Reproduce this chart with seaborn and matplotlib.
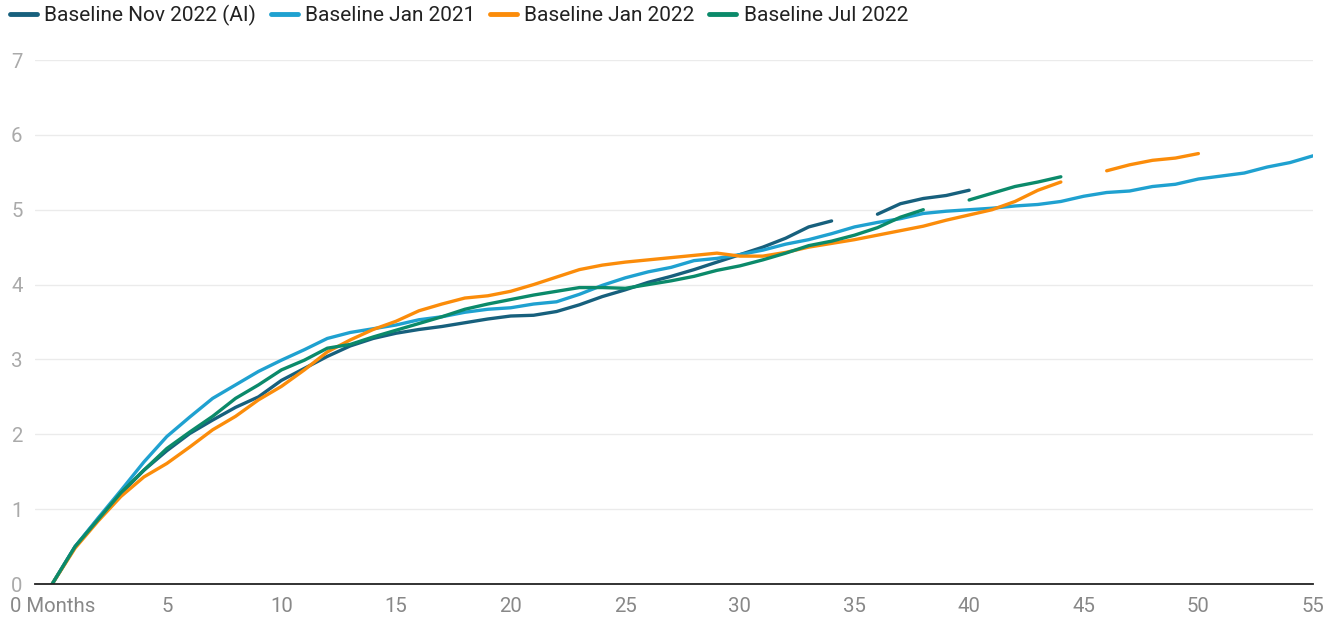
import numpy as np
import pandas as pd
import matplotlib
matplotlib.use("Agg")
import matplotlib.pyplot as plt
from matplotlib.lines import Line2D
import seaborn as sns

nan = np.nan
months_nov22 = list(range(0, 41))
nov22 = [0, 0.5, 0.87, 1.21, 1.52, 1.78, 2.01, 2.19, 2.36, 2.50, 2.72, 2.88, 3.04, 3.18, 3.28,
         3.35, 3.40, 3.44, 3.49, 3.54, 3.58, 3.59, 3.64, 3.73, 3.84, 3.93, 4.03, 4.11, 4.20, 4.30,
         4.40, 4.50, 4.62, 4.77, 4.85, nan, 4.94, 5.08, 5.15, 5.19, 5.26]

months_jan21 = list(range(0, 56))
jan21 = [0, 0.5, 0.88, 1.25, 1.63, 1.97, 2.23, 2.48, 2.66, 2.84, 2.99, 3.13, 3.28, 3.36, 3.41,
         3.46, 3.53, 3.57, 3.63, 3.67, 3.69, 3.74, 3.77, 3.87, 3.99, 4.09, 4.17, 4.23, 4.32, 4.35,
         4.40, 4.46, 4.54, 4.60, 4.68, 4.77, 4.83, 4.88, 4.95, 4.98, 5.00, 5.02, 5.05, 5.07, 5.11,
         5.18, 5.23, 5.25, 5.31, 5.34, 5.41, 5.45, 5.49, 5.57, 5.63, 5.72]

months_jan22 = list(range(0, 51))
jan22 = [0, 0.48, 0.84, 1.17, 1.43, 1.61, 1.83, 2.06, 2.24, 2.46, 2.64, 2.86, 3.10, 3.26, 3.40,
         3.51, 3.65, 3.74, 3.82, 3.85, 3.91, 4.00, 4.10, 4.20, 4.26, 4.30, 4.33, 4.36, 4.39, 4.42,
         4.38, 4.38, 4.43, 4.50, 4.55, 4.60, 4.66, 4.72, 4.78, 4.86, 4.93, 5.00, 5.11, 5.26, 5.37,
         nan, 5.52, 5.60, 5.66, 5.69, 5.75]

months_jul22 = list(range(0, 45))
jul22 = [0, 0.5, 0.86, 1.22, 1.52, 1.81, 2.03, 2.24, 2.48, 2.66, 2.86, 2.99, 3.15, 3.20, 3.30,
         3.39, 3.48, 3.57, 3.67, 3.74, 3.80, 3.86, 3.91, 3.96, 3.96, 3.95, 4.00, 4.05, 4.11, 4.19,
         4.25, 4.33, 4.42, 4.52, 4.58, 4.66, 4.76, 4.90, 5.00, nan, 5.13, 5.22, 5.31, 5.37, 5.44]

series_names = ["Baseline Nov 2022 (AI)", "Baseline Jan 2021", "Baseline Jan 2022", "Baseline Jul 2022"]
series_x = [months_nov22, months_jan21, months_jan22, months_jul22]
series_y = [nov22, jan21, jan22, jul22]
colors = ["#17607d", "#1fa1d0", "#fb8c0a", "#0b8a6a"]

x_ticks = [0, 5, 10, 15, 20, 25, 30, 35, 40, 45, 50, 55]
x_tick_labels = ["0 Months"] + [str(v) for v in x_ticks[1:]]
y_ticks = [0, 1, 2, 3, 4, 5, 6, 7]

sns.set_style("white")
plt.rcParams["font.family"] = ["Roboto", "DejaVu Sans"]

fig = plt.figure(figsize=(13.27, 6.19), dpi=100)
ax = fig.add_axes([35 / 1327, 1 - 584 / 619, (1313 - 35) / 1327, (584 - 60) / 619])

for name, xs, ys, c in zip(series_names, series_x, series_y, colors):
    df = pd.DataFrame({"month": xs, "value": ys})
    df["seg"] = df["value"].isna().cumsum()
    df = df.dropna()
    for _, seg in df.groupby("seg"):
        sns.lineplot(data=seg, x="month", y="value", ax=ax, color=c, linewidth=2.4,
                     solid_capstyle="round", legend=False)

ax.set_xlim(-0.75, 55)
ax.set_ylim(0, 7)
ax.set_xticks(x_ticks)
ax.set_xticklabels(x_tick_labels)
ax.set_yticks(y_ticks)
ax.set_xlabel("")
ax.set_ylabel("")
ax.grid(axis="y", color="#ebebeb", linewidth=1)
ax.grid(axis="x", visible=False)
for s in ["top", "right", "left"]:
    ax.spines[s].set_visible(False)
ax.spines["bottom"].set_color("#222222")
ax.spines["bottom"].set_linewidth(1.3)
ax.spines["bottom"].set_zorder(5)
ax.tick_params(axis="both", length=0, labelsize=14.7, labelcolor="#888888")
ax.tick_params(axis="y", pad=9)
ax.tick_params(axis="x", pad=9.5)
for lbl in ax.get_yticklabels():
    lbl.set_color("#aaaaaa")

handles = [Line2D([0], [0], color=c, linewidth=3.5, solid_capstyle="round") for c in colors]
fig.legend(handles, series_names, loc="upper left", bbox_to_anchor=(-0.002, 1.012), ncol=4,
           frameon=False, fontsize=15, handlelength=1.3, handletextpad=0.35,
           columnspacing=0.7, borderaxespad=0.2, labelcolor="#222222")

fig.savefig("out.png", dpi=100)
